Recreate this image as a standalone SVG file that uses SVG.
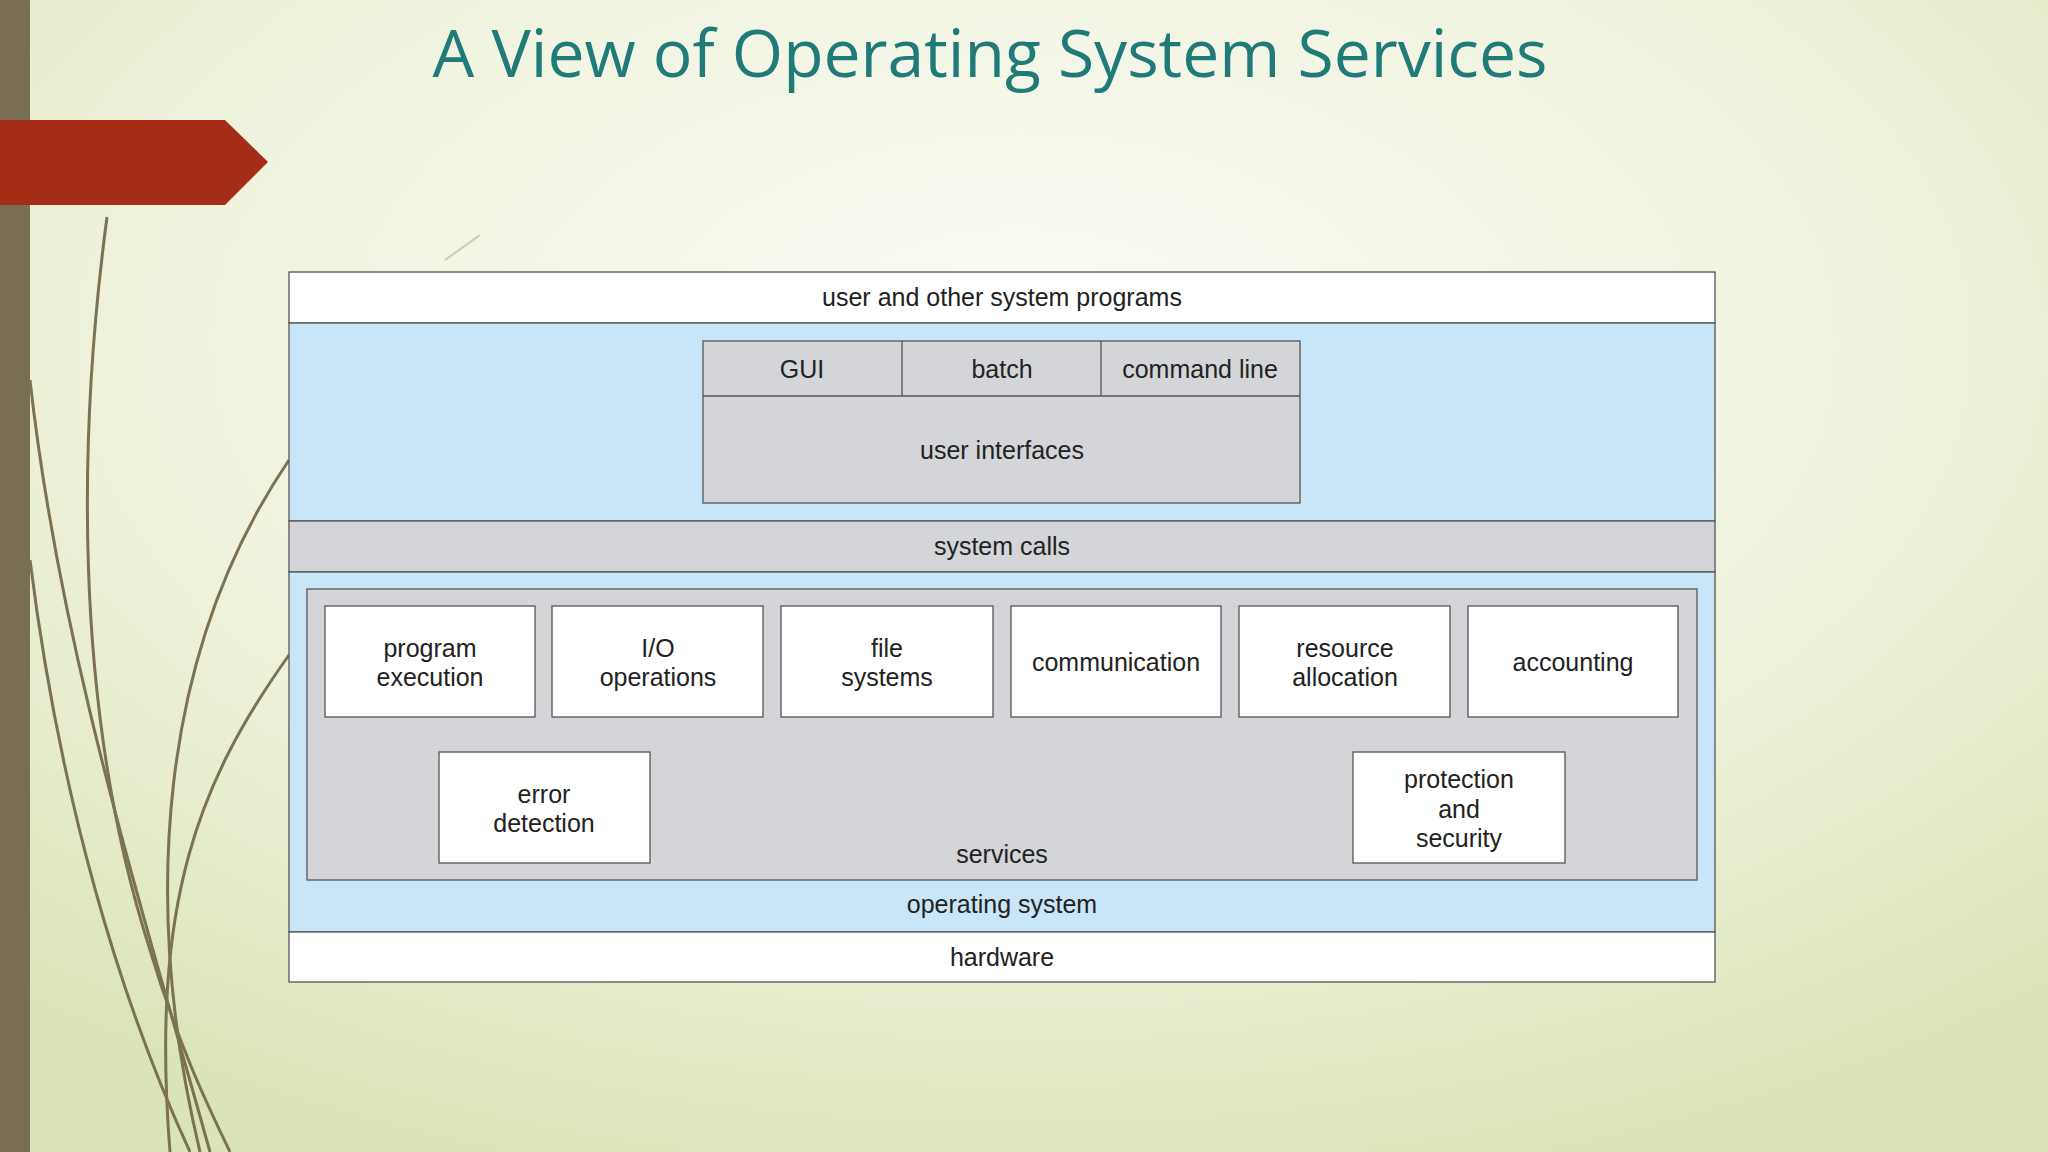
<svg xmlns="http://www.w3.org/2000/svg" width="2048" height="1152" viewBox="0 0 2048 1152">
<defs>
<radialGradient id="bg" cx="0.5" cy="0.3" r="0.75">
<stop offset="0" stop-color="#fbfcf6"/>
<stop offset="0.6" stop-color="#eef2db"/>
<stop offset="1" stop-color="#dbe4b8"/>
</radialGradient>
<style>
.t{font-family:"Liberation Sans",Arial,sans-serif;font-size:25px;fill:#222;text-anchor:middle}
.w{fill:#fff;stroke:#555;stroke-width:1.3}
.g{fill:#d4d5d8;stroke:#555;stroke-width:1.3}
.b{fill:#c8e6f8;stroke:#555;stroke-width:1.3}
.c{fill:none;stroke:#7a7250;stroke-width:3}
</style>
</defs>
<rect width="2048" height="1152" fill="url(#bg)"/>
<g id="decor">
<path class="c" d="M107 217 C80 420 70 700 150 950 C180 1050 210 1110 230 1152"/>
<path class="c" d="M30 380 C60 650 140 900 210 1152" stroke-width="4"/>
<path class="c" d="M289 655 C200 780 150 900 170 1152" stroke-width="3"/>
<path class="c" d="M289 460 C160 650 140 900 200 1152" stroke="#c9cfa8" stroke-width="3"/>
<path class="c" d="M30 560 C60 800 120 1000 190 1152" stroke="#b5b996" stroke-width="6"/>
<path d="M445 260 L480 235" stroke="#c9cfa8" stroke-width="2"/>
</g>
<rect x="0" y="0" width="30" height="1152" fill="#7a6e52"/>
<polygon points="0,120 225,120 268,162 225,205 0,205" fill="#a52c16"/>
<text x="990" y="77" font-family="'Open Sans','Liberation Sans',sans-serif" font-size="66" fill="#1f7a78" text-anchor="middle">A View of Operating System Services</text>
<g id="os">
<rect class="w" x="289" y="272" width="1426" height="51"/>
<text class="t" x="1002" y="306">user and other system programs</text>
<rect class="b" x="289" y="323" width="1426" height="198"/>
<rect class="g" x="289" y="521" width="1426" height="51"/>
<text class="t" x="1002" y="555">system calls</text>
<rect class="b" x="289" y="572" width="1426" height="360"/>
<text class="t" x="1002" y="913">operating system</text>
<rect class="w" x="289" y="932" width="1426" height="50"/>
<text class="t" x="1002" y="966">hardware</text>
</g>
<g id="ui">
<rect class="g" x="703" y="341" width="597" height="162"/>
<line x1="703" y1="396" x2="1300" y2="396" stroke="#555" stroke-width="1.3"/>
<line x1="902" y1="341" x2="902" y2="396" stroke="#555" stroke-width="1.3"/>
<line x1="1101" y1="341" x2="1101" y2="396" stroke="#555" stroke-width="1.3"/>
<text class="t" x="802" y="378">GUI</text>
<text class="t" x="1002" y="378">batch</text>
<text class="t" x="1200" y="378">command line</text>
<text class="t" x="1002" y="459">user interfaces</text>
</g>
<g id="services">
<rect class="g" x="307" y="589" width="1390" height="291"/>
<text class="t" x="1002" y="863">services</text>
</g>
<g id="n1"><rect class="w" x="325" y="606" width="210" height="111"/><text class="t" x="430" y="657">program</text><text class="t" x="430" y="686">execution</text></g>
<g id="n2"><rect class="w" x="552" y="606" width="211" height="111"/><text class="t" x="658" y="657">I/O</text><text class="t" x="658" y="686">operations</text></g>
<g id="n3"><rect class="w" x="781" y="606" width="212" height="111"/><text class="t" x="887" y="657">file</text><text class="t" x="887" y="686">systems</text></g>
<g id="n4"><rect class="w" x="1011" y="606" width="210" height="111"/><text class="t" x="1116" y="671">communication</text></g>
<g id="n5"><rect class="w" x="1239" y="606" width="211" height="111"/><text class="t" x="1345" y="657">resource</text><text class="t" x="1345" y="686">allocation</text></g>
<g id="n6"><rect class="w" x="1468" y="606" width="210" height="111"/><text class="t" x="1573" y="671">accounting</text></g>
<g id="n7"><rect class="w" x="439" y="752" width="211" height="111"/><text class="t" x="544" y="803">error</text><text class="t" x="544" y="832">detection</text></g>
<g id="n8"><rect class="w" x="1353" y="752" width="212" height="111"/><text class="t" x="1459" y="788">protection</text><text class="t" x="1459" y="818">and</text><text class="t" x="1459" y="847">security</text></g>
<g id="connectors"/>
</svg>
